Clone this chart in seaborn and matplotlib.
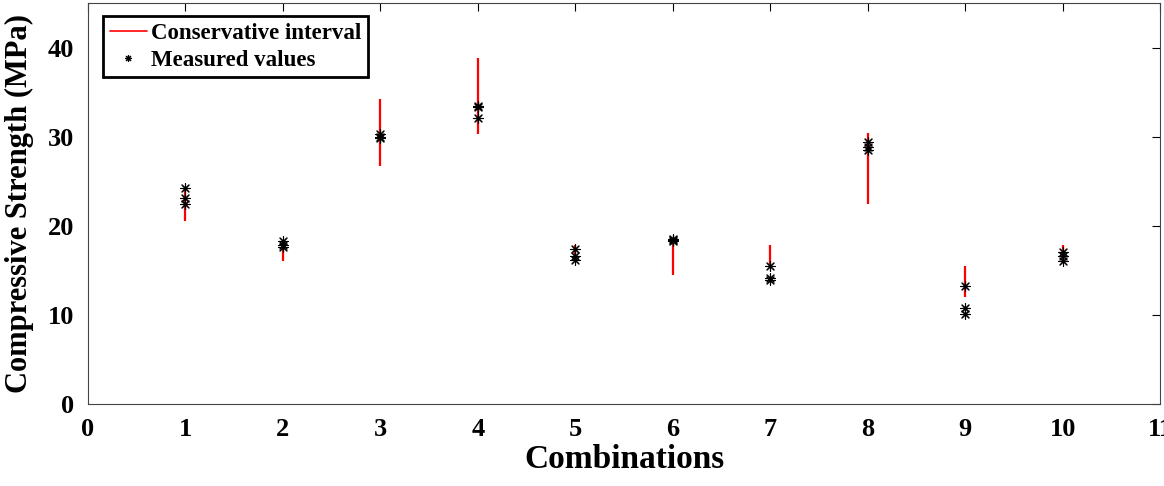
import numpy as np
import pandas as pd
import matplotlib
matplotlib.use("Agg")
import matplotlib.pyplot as plt
import seaborn as sns
from matplotlib.lines import Line2D

sns.set_style("white")
plt.rcParams['font.family'] = ['Liberation Serif', 'DejaVu Serif']
plt.rcParams['font.weight'] = 'bold'
plt.rcParams['text.color'] = 'black'
plt.rcParams['axes.labelcolor'] = 'black'

# Data
combinations = [1, 2, 3, 4, 5, 6, 7, 8, 9, 10]
interval_low = [20.5, 16.1, 26.7, 30.3, 16.0, 14.5, 15.5, 22.5, 12.0, 16.2]
interval_high = [24.0, 18.0, 34.2, 38.8, 17.9, 18.4, 17.9, 30.4, 15.5, 17.9]
measured_1 = [24.2, 18.3, 30.3, 33.4, 17.4, 18.5, 15.5, 29.4, 13.2, 17.1]
measured_2 = [23.1, 17.9, 30.0, 33.3, 16.6, 18.4, 14.1, 28.9, 10.8, 16.6]
measured_3 = [22.5, 17.6, 29.8, 32.1, 16.2, 18.3, 13.9, 28.5, 10.1, 16.1]

meas = pd.DataFrame({
    "Combination": combinations * 3,
    "Strength": measured_1 + measured_2 + measured_3,
})

fig = plt.figure(figsize=(11.64, 4.86), dpi=100)
ax = fig.add_axes([0.0756, 0.1687, 0.921, 0.825])

ax.vlines(combinations, interval_low, interval_high, colors='#ff0000', linewidth=1.6, zorder=2)
star = (8, 2, 0)
sns.scatterplot(data=meas, x="Combination", y="Strength", marker=star, color='black',
                s=50, linewidth=0.8, ax=ax, zorder=3, legend=False)

ax.set_xlim(0, 11)
ax.set_ylim(0, 45)
ax.set_xticks(range(0, 12))
ax.set_xticklabels([str(i) for i in range(0, 12)])
ax.set_yticks([0, 10, 20, 30, 40])
ax.tick_params(direction='in', length=6, width=0.8, top=True, right=True,
               labelsize=19, pad=10, colors='black')
for lab in ax.get_xticklabels() + ax.get_yticklabels():
    lab.set_fontweight('bold')
for sp in ax.spines.values():
    sp.set_color('#444444')
    sp.set_linewidth(0.8)

ax.set_xlabel("Combinations", fontsize=24, fontweight='bold', labelpad=2)
ax.set_ylabel("Compressive Strength (MPa)", fontsize=22, fontweight='bold', labelpad=10)

handles = [Line2D([0], [0], color='#ff0000', lw=1.2),
           Line2D([0], [0], color='black', marker=star, lw=0, markersize=5, markeredgewidth=0.8)]
leg = ax.legend(handles, ["Conservative interval", "Measured values"], loc='upper left',
                bbox_to_anchor=(0.014, 0.968), fancybox=False, framealpha=1,
                prop={'size': 16.5, 'weight': 'bold'}, handlelength=1.6, handletextpad=0.2,
                borderpad=0.3, labelspacing=0.25, borderaxespad=0)
leg.get_frame().set_edgecolor('black')
leg.get_frame().set_linewidth(2)

fig.savefig("out.png", dpi=100)
